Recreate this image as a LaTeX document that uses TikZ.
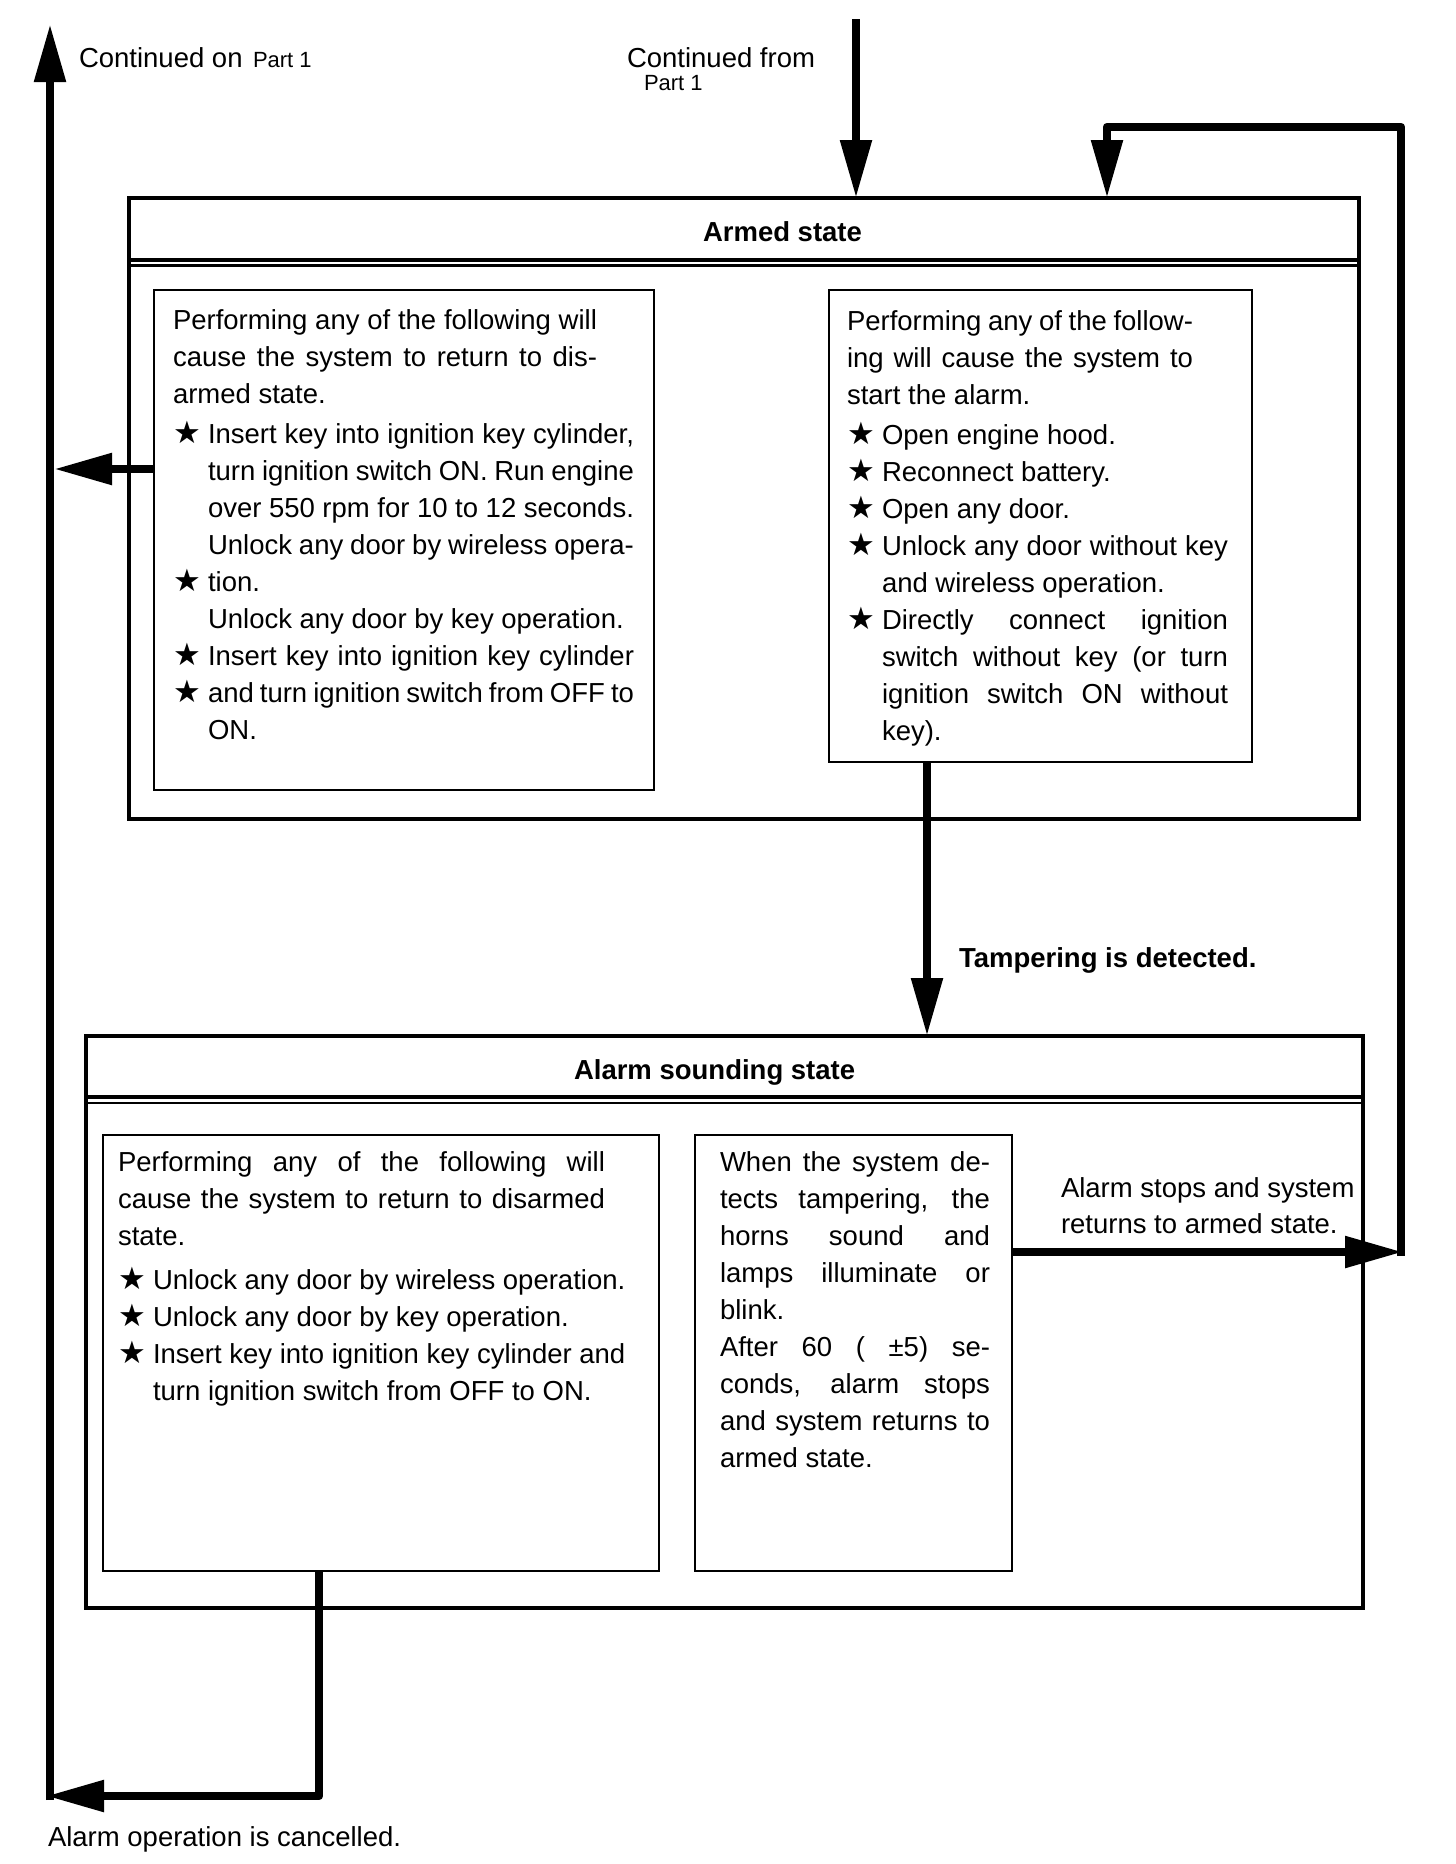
\documentclass[tikz,border=0pt]{standalone}
\usepackage{fontspec}
\setmainfont{Liberation Sans}
\newfontfamily\starfont{DejaVu Sans}
\usetikzlibrary{arrows.meta}

\newcommand\Tline[1]{\hbox{#1}}
\newcommand\Jline[2]{\hbox{\makebox[#1][s]{#2}}}
\newcommand\bstar{\makebox[35pt][l]{{\starfont\fontsize{31}{31}\selectfont ★}}}
\newcommand\bind{\hspace*{35pt}}

\tikzset{
  outerbox/.style={draw, line width=3.5pt, inner sep=0pt, outer sep=0pt, anchor=north west},
  innerbox/.style={draw, line width=2.3pt, inner sep=0pt, outer sep=0pt, anchor=north west},
  txt/.style={inner sep=0pt, outer sep=0pt, anchor=base west, font=\fontsize{27.5}{37}\selectfont},
  ttl/.style={txt, font=\fontsize{27.5}{37}\selectfont\bfseries},
  small/.style={txt, font=\fontsize{22}{26}\selectfont},
  conn/.style={line width=8.5pt, line join=round, -{Triangle[length=58pt,width=30pt]}},
  thickrule/.style={line width=4pt},
  thinrule/.style={line width=2.6pt},
}

\begin{document}
\begin{tikzpicture}[x=1pt, y=-1pt]
\useasboundingbox (0,0) rectangle (1456,1864);
\fill[white] (0,0) rectangle (1456,1864);

% ---------- boxes ----------
\node[outerbox, minimum width=1230pt, minimum height=621pt] (armed) at (129,198) {};
\node[innerbox, minimum width=500pt, minimum height=500pt] (armL) at (154,290) {};
\node[innerbox, minimum width=423pt, minimum height=472pt] (armR) at (829,290) {};

\node[outerbox, minimum width=1277pt, minimum height=572pt] (alarm) at (86,1036) {};
\node[innerbox, minimum width=556pt, minimum height=436pt] (alL) at (103,1135) {};
\node[innerbox, minimum width=317pt, minimum height=436pt] (alM) at (695,1135) {};

% title double rules
\draw[thickrule] (129,260) -- (1359,260);
\draw[thinrule] (129,265.5) -- (1359,265.5);
\draw[thickrule] (86,1097) -- (1363,1097);
\draw[thinrule] (86,1103) -- (1363,1103);

% ---------- titles and labels ----------
\node[ttl] (armedTitle) at (703,241) {Armed state};
\node[ttl] (alarmTitle) at (574,1079) {Alarm sounding state};
\node[ttl] (tamper) at (959,967) {Tampering is detected.};

\node[txt] (contOn) at (79,67) {Continued on};
\node[small] (contOnPart) at (253,67) {Part 1};
\node[txt] (contFrom) at (627,67) {Continued from};
\node[small] (contFromPart) at (644,90) {Part 1};

\node[txt] (stopsText) at (1061,1197) {\vtop{\baselineskip=36pt
  \Tline{Alarm stops and system}
  \Tline{returns to armed state.}}};

\node[txt] (cancelText) at (48,1846) {Alarm operation is cancelled.};

% ---------- box texts ----------
\node[txt] (armLtext) at (173,329) {\vtop{
  \Jline{424pt}{Performing any of the following will}
  \Jline{424pt}{cause the system to return to dis-}
  \Tline{armed state.}
  \vskip3pt
  \Tline{\bstar\makebox[426pt][s]{Insert key into ignition key cylinder,}}
  \Tline{\bind\makebox[426pt][s]{turn ignition switch ON. Run engine}}
  \Tline{\bind\makebox[426pt][s]{over 550 rpm for 10 to 12 seconds.}}
  \Tline{\bind\makebox[426pt][s]{Unlock any door by wireless opera-}}
  \Tline{\bstar tion.}
  \Tline{\bind Unlock any door by key operation.}
  \Tline{\bstar\makebox[426pt][s]{Insert key into ignition key cylinder}}
  \Tline{\bstar\makebox[426pt][s]{and turn ignition switch from OFF to}}
  \Tline{\bind ON.}}};

\node[txt] (armRtext) at (847,330) {\vtop{
  \Jline{346pt}{Performing any of the follow-}
  \Jline{346pt}{ing will cause the system to}
  \Tline{start the alarm.}
  \vskip3pt
  \Tline{\bstar Open engine hood.}
  \Tline{\bstar Reconnect battery.}
  \Tline{\bstar Open any door.}
  \Tline{\bstar\makebox[346pt][s]{Unlock any door without key}}
  \Tline{\bind and wireless operation.}
  \Tline{\bstar\makebox[346pt][s]{Directly connect ignition}}
  \Tline{\bind\makebox[346pt][s]{switch without key (or turn}}
  \Tline{\bind\makebox[346pt][s]{ignition switch ON without}}
  \Tline{\bind key).}}};

\node[txt] (alLtext) at (118,1171) {\vtop{
  \Jline{487pt}{Performing any of the following will}
  \Jline{487pt}{cause the system to return to disarmed}
  \Tline{state.}
  \vskip7pt
  \Tline{\bstar Unlock any door by wireless operation.}
  \Tline{\bstar Unlock any door by key operation.}
  \Tline{\bstar Insert key into ignition key cylinder and}
  \Tline{\bind turn ignition switch from OFF to ON.}}};

\node[txt] (alMtext) at (720,1171) {\vtop{
  \Jline{270pt}{When the system de-}
  \Jline{270pt}{tects tampering, the}
  \Jline{270pt}{horns sound and}
  \Jline{270pt}{lamps illuminate or}
  \Tline{blink.}
  \Jline{270pt}{After 60 ( ±5) se-}
  \Jline{270pt}{conds, alarm stops}
  \Jline{270pt}{and system returns to}
  \Tline{armed state.}}};

% ---------- connectors ----------
\coordinate (leftBot) at (50,1800);
\coordinate (leftTop) at (50,24);
\coordinate (leftBotTip) at (46,1796);
\coordinate (leftMidTip) at (54,469);
\coordinate (topIn) at (856,19);
\coordinate (loopRight) at (1401,1256);
\coordinate (loopTip) at (1403,1252);

% exit line to Part 1
\draw[conn] (leftBot) -- (leftTop);
% armed -> disarmed
\draw[conn] ([yshift=71pt]armL.west) -- (leftMidTip);
% from Part 1 into armed
\draw[conn] (topIn) -- ([xshift=727pt]armed.north west);
% tampering
\draw[conn] ([xshift=98pt]armR.south west) -- ([xshift=841pt]alarm.north west);
% alarm stops -> armed
\draw[conn] ([yshift=101pt]alM.east) -- (loopTip);
\draw[conn] (loopRight) -- (1401,127) -- (1107,127) -- ([xshift=978pt]armed.north west);
% alarm cancelled
\draw[conn] ([xshift=216pt]alL.south west) |- (leftBotTip);

\end{tikzpicture}
\end{document}
